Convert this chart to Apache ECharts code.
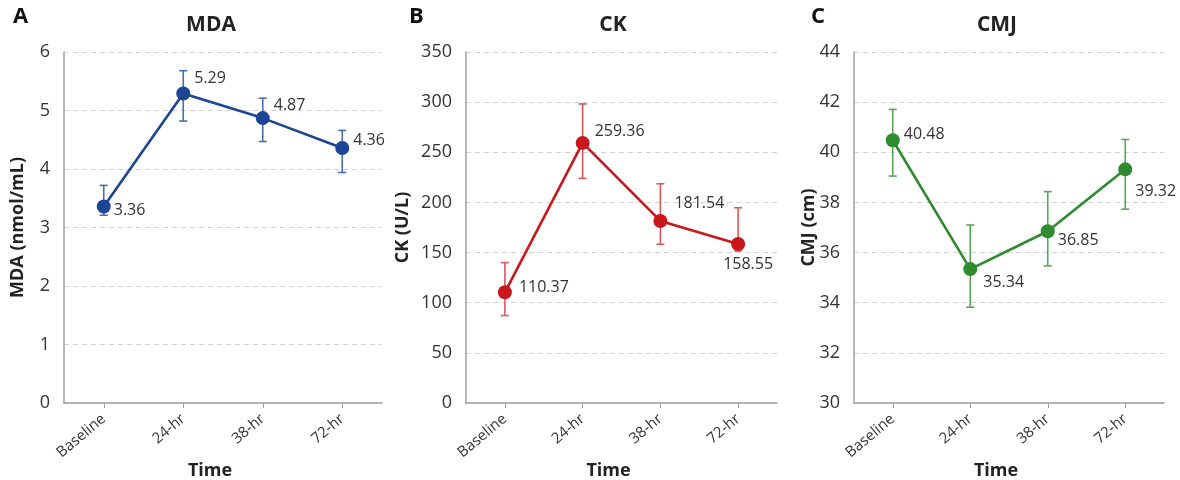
<!DOCTYPE html>
<html>
<head>
<meta charset="utf-8">
<script src="https://cdn.jsdelivr.net/npm/echarts@6/dist/echarts.min.js"></script>
<style>html,body{margin:0;padding:0;background:#fff;}#c{width:1180px;height:480px;}</style>
</head>
<body>
<div id="c"></div>
<script>
const categories = ['Baseline', '24-hr', '38-hr', '72-hr'];

const mdaMean = [3.36, 5.29, 4.87, 4.36];
const mdaLow  = [3.21, 4.82, 4.47, 3.94];
const mdaHigh = [3.72, 5.68, 5.21, 4.66];

const ckMean = [110.37, 259.36, 181.54, 158.55];
const ckLow  = [87.2, 224.0, 158.3, 151.6];
const ckHigh = [140.0, 298.2, 218.6, 194.7];

const cmjMean = [40.48, 35.34, 36.85, 39.32];
const cmjLow  = [39.05, 33.82, 35.47, 37.73];
const cmjHigh = [41.71, 37.10, 38.43, 40.51];

const mdaAxis = {min: 0, max: 6, interval: 1};
const ckAxis = {min: 0, max: 350, interval: 50};
const cmjAxis = {min: 30, max: 44, interval: 2};

// styling (label placement per point)
const mdaLabelStyle = [{o:[10,4],a:'left'},{o:[11,-15],a:'left'},{o:[11,-13],a:'left'},{o:[11,-8],a:'left'}];
const ckLabelStyle  = [{o:[14,-5],a:'left'},{o:[12,-11],a:'left'},{o:[14,-18],a:'left'},{o:[10,20],a:'center'}];
const cmjLabelStyle = [{o:[11,-6],a:'left'},{o:[13,13],a:'left'},{o:[10,9],a:'left'},{o:[10,22],a:'left'}];

const FONT = 'Open Sans';
const chart = echarts.init(document.getElementById('c'));

const panels = [
  {grid:{left:64, top:52, width:318, bottom:77, containLabel:false, outerBoundsMode:'none'}, name:'MDA (nmol/mL)', nameGap:37, axis:mdaAxis, mean:mdaMean, low:mdaLow, high:mdaHigh, color:'#1c4595', errColor:'#4a6cae', ls:mdaLabelStyle},
  {grid:{left:466, top:52, width:311, bottom:77, containLabel:false, outerBoundsMode:'none'}, name:'CK (U/L)', nameGap:54, axis:ckAxis, mean:ckMean, low:ckLow, high:ckHigh, color:'#c8171d', errColor:'#d9595c', ls:ckLabelStyle},
  {grid:{left:854, top:52, width:310, bottom:77, containLabel:false, outerBoundsMode:'none'}, name:'CMJ (cm)', nameGap:36, axis:cmjAxis, mean:cmjMean, low:cmjLow, high:cmjHigh, color:'#2e8b2e', errColor:'#5aa65a', ls:cmjLabelStyle}
];

function errRender(color) {
  return function (params, api) {
    const idx = api.value(0);
    const lo = api.coord([idx, api.value(1)]);
    const hi = api.coord([idx, api.value(2)]);
    const w = 4;
    const st = {stroke: color, lineWidth: 1.6};
    return {type: 'group', children: [
      {type: 'line', shape: {x1: lo[0], y1: lo[1], x2: hi[0], y2: hi[1]}, style: st},
      {type: 'line', shape: {x1: lo[0] - w, y1: lo[1], x2: lo[0] + w, y2: lo[1]}, style: st},
      {type: 'line', shape: {x1: hi[0] - w, y1: hi[1], x2: hi[0] + w, y2: hi[1]}, style: st}
    ]};
  };
}

const option = {
  backgroundColor: '#ffffff',
  animation: false,
  textStyle: {fontFamily: FONT},
  grid: panels.map(p => p.grid),
  xAxis: panels.map((p, i) => ({
    type: 'category', gridIndex: i, data: categories, boundaryGap: true,
    name: 'Time', nameLocation: 'middle', nameGap: 59, nameMoveOverlap: false,
    nameTextStyle: {fontFamily: FONT, fontSize: 18, fontWeight: 'bold', color: '#222', padding: [0, 26, 0, 0]},
    axisLine: {lineStyle: {color: '#a0a0a0', width: 1.5}},
    axisTick: {show: true, alignWithLabel: true, length: 5, lineStyle: {color: '#a0a0a0'}},
    axisLabel: {rotate: 40, fontSize: 15, color: '#333', margin: 14, fontFamily: FONT},
    splitLine: {show: false}
  })),
  yAxis: panels.map((p, i) => ({
    type: 'value', gridIndex: i, min: p.axis.min, max: p.axis.max, interval: p.axis.interval,
    name: p.name, nameLocation: 'middle', nameGap: p.nameGap, nameMoveOverlap: false,
    nameTextStyle: {fontFamily: FONT, fontSize: 18, fontWeight: 'bold', color: '#222'},
    axisLine: {show: true, lineStyle: {color: '#a0a0a0', width: 1.5}},
    axisTick: {show: false},
    axisLabel: {fontSize: 18, color: '#333', margin: 14, fontFamily: FONT},
    splitLine: {show: true, lineStyle: {color: '#d2d2d2', type: [5, 4], width: 1}}
  })),
  series: [].concat(...panels.map((p, i) => [
    {
      type: 'custom', xAxisIndex: i, yAxisIndex: i, z: 1,
      renderItem: errRender(p.errColor),
      data: categories.map((c, k) => [k, p.low[k], p.high[k]]),
      silent: true
    },
    {
      type: 'line', xAxisIndex: i, yAxisIndex: i, z: 3,
      symbol: 'circle', symbolSize: 14,
      lineStyle: {color: p.color, width: 2.6},
      itemStyle: {color: p.color},
      label: {show: true, position: 'inside', verticalAlign: 'middle', fontSize: 16, color: '#333', fontFamily: FONT},
      data: p.mean.map((v, k) => ({value: v, label: {offset: p.ls[k].o, align: p.ls[k].a}}))
    }
  ])),
  graphic: [
    {type: 'text', left: 13, top: 6, style: {text: 'A', font: 'bold 22px "Open Sans"', fill: '#111'}},
    {type: 'text', left: 409, top: 6, style: {text: 'B', font: 'bold 22px "Open Sans"', fill: '#111'}},
    {type: 'text', left: 811, top: 6, style: {text: 'C', font: 'bold 22px "Open Sans"', fill: '#111'}},
    {type: 'text', x: 211, y: 25, style: {text: 'MDA', font: 'bold 21px "Open Sans"', fill: '#222', textAlign: 'center', textVerticalAlign: 'middle'}},
    {type: 'text', x: 613, y: 25, style: {text: 'CK', font: 'bold 21px "Open Sans"', fill: '#222', textAlign: 'center', textVerticalAlign: 'middle'}},
    {type: 'text', x: 997, y: 25, style: {text: 'CMJ', font: 'bold 21px "Open Sans"', fill: '#222', textAlign: 'center', textVerticalAlign: 'middle'}}
  ]
};
chart.setOption(option);
</script>
</body>
</html>
